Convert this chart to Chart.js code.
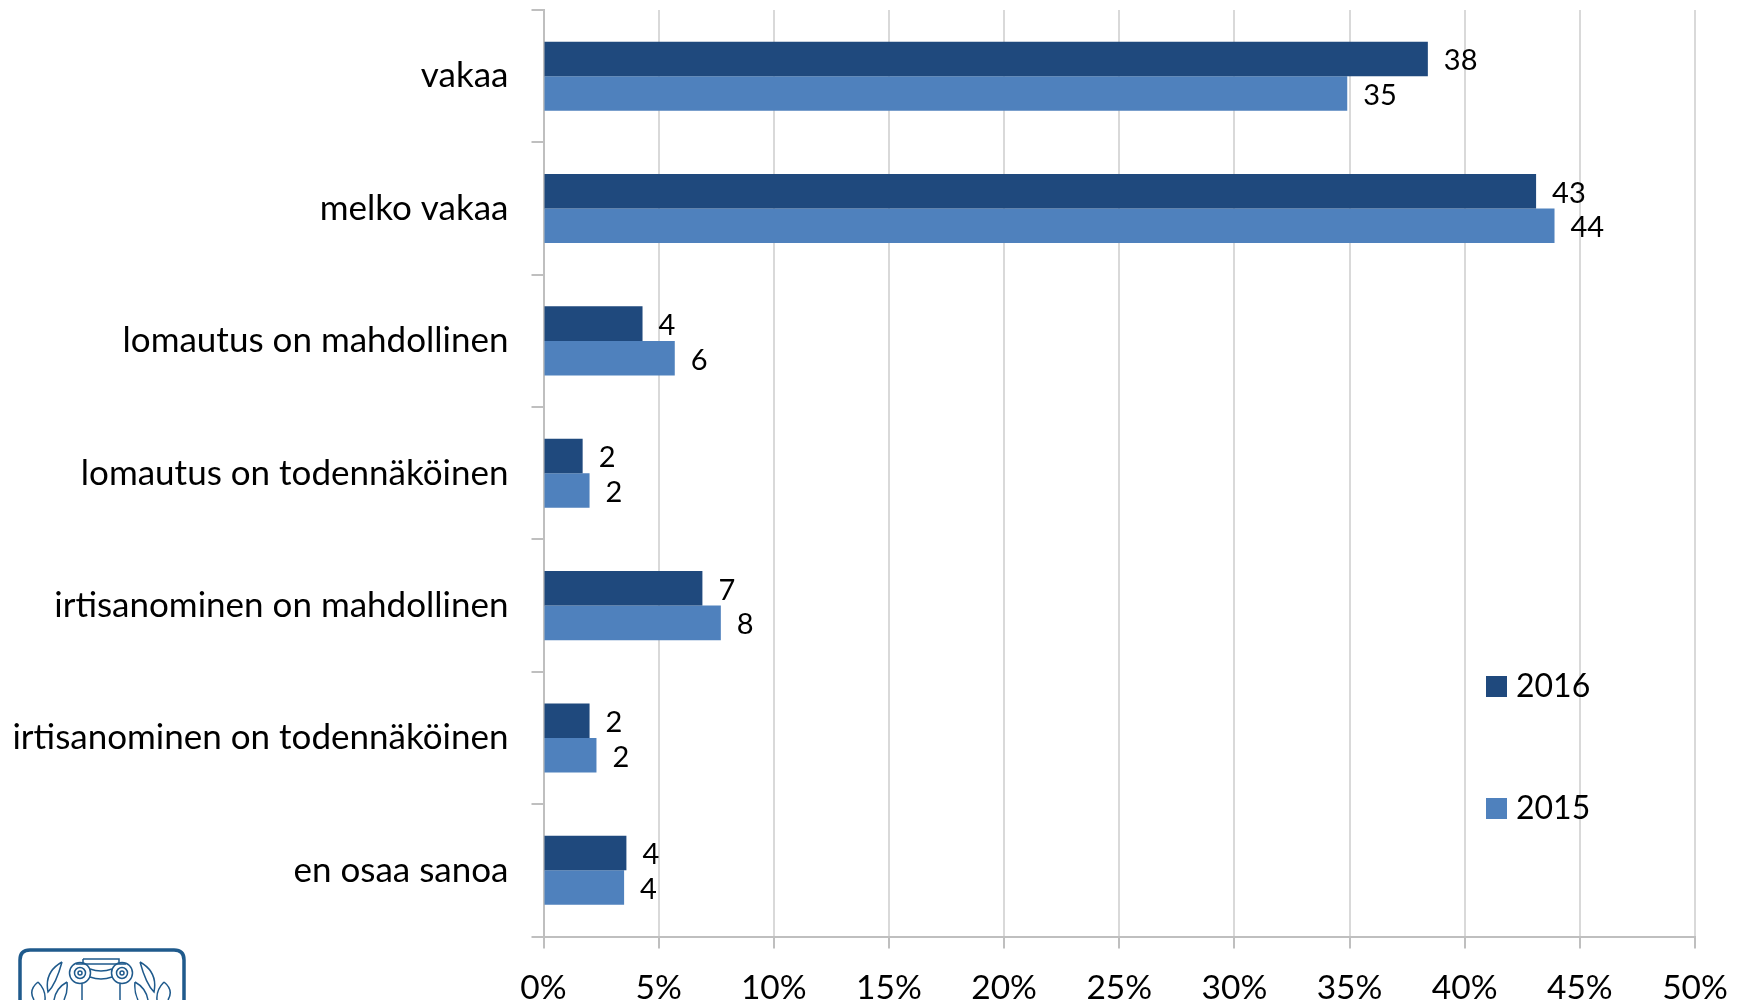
<!DOCTYPE html>
<html>
<head>
<meta charset="utf-8">
<script src="https://cdn.jsdelivr.net/npm/chart.js@4"></script>
<style>
    html, body { margin: 0; padding: 0; background: #fff; overflow: hidden; }
    #wrap { position: relative; width: 1746px; height: 1000px; }
    #logo { position: absolute; left: 18px; top: 948px; }
</style>
</head>
<body>
<div id="wrap">
    <canvas id="chart" width="1746" height="1000"></canvas>
    <svg id="logo" width="170" height="52" viewBox="0 0 170 52" fill="none" stroke="#1f5a8c" stroke-width="1.5">
        <path d="M2 52 V12 Q2 2 12 2 H156 Q166 2 166 12 V52" stroke-width="3.5"/>
        <path d="M65 11 H101 V16 M65 11 V16 M58 16 H108"/>
        <circle cx="62" cy="25" r="10.5"/><circle cx="62" cy="25" r="5.5"/><circle cx="62" cy="25" r="2"/>
        <circle cx="104" cy="25" r="10.5"/><circle cx="104" cy="25" r="5.5"/><circle cx="104" cy="25" r="2"/>
        <path d="M72 21 Q83 25 94 21 M72 29 Q83 33 94 29 M64 36 V52 M102 36 V52"/>
        <path d="M44 14 Q26 24 30 44 Q38 36 44 14 M20 34 Q10 42 16 52 M20 34 Q28 42 27 52 M49 34 Q38 40 36 52 M49 34 Q50 44 46 52"/>
        <path d="M122 14 Q140 24 136 44 Q128 36 122 14 M146 34 Q156 42 150 52 M146 34 Q138 42 139 52 M117 34 Q128 40 130 52 M117 34 Q116 44 120 52"/>
    </svg>
</div>
<script>
const categories = [
    'vakaa',
    'melko vakaa',
    'lomautus on mahdollinen',
    'lomautus on todennäköinen',
    'irtisanominen on mahdollinen',
    'irtisanominen on todennäköinen',
    'en osaa sanoa'
];
const values2016 = [38.4, 43.1, 4.3, 1.7, 6.9, 2.0, 3.6];
const values2015 = [34.9, 43.9, 5.7, 2.0, 7.7, 2.3, 3.5];
const labels2016 = [38, 43, 4, 2, 7, 2, 4];
const labels2015 = [35, 44, 6, 2, 8, 2, 4];
const seriesNames = ['2016', '2015'];
const seriesColors = ['#1f497d', '#4f81bd'];

const FONT = 'Lato, Carlito, sans-serif';

// Value labels at the end of each bar
const barLabels = {
    id: 'barLabels',
    afterDatasetsDraw(chart) {
        const ctx = chart.ctx;
        ctx.save();
        ctx.font = '29px ' + FONT;
        ctx.fillStyle = '#000';
        ctx.textBaseline = 'middle';
        ctx.textAlign = 'left';
        [labels2016, labels2015].forEach((labels, i) => {
            chart.getDatasetMeta(i).data.forEach((bar, j) => {
                ctx.fillText(labels[j], bar.x + 16, bar.y + 2);
            });
        });
        ctx.restore();
    }
};

// Legend sits inside the plot, right side
const sideLegend = {
    id: 'sideLegend',
    afterDatasetsDraw(chart) {
        const ctx = chart.ctx;
        const slots = [686.5, 808.5];
        ctx.save();
        ctx.font = '32px ' + FONT;
        ctx.textBaseline = 'middle';
        seriesNames.forEach((name, i) => {
            ctx.fillStyle = seriesColors[i];
            ctx.fillRect(1486, slots[i] - 10.5, 21, 21);
            ctx.fillStyle = '#000';
            ctx.fillText(name, 1516, slots[i]);
        });
        ctx.restore();
    }
};

new Chart(document.getElementById('chart'), {
    type: 'bar',
    data: {
        labels: categories,
        datasets: [
            { label: seriesNames[0], data: values2016, backgroundColor: seriesColors[0] },
            { label: seriesNames[1], data: values2015, backgroundColor: seriesColors[1] }
        ]
    },
    options: {
        indexAxis: 'y',
        responsive: false,
        animation: false,
        categoryPercentage: 0.522,
        barPercentage: 1,
        layout: { padding: { top: 10, right: 51, left: 0, bottom: 0 } },
        plugins: {
            legend: { display: false },
            tooltip: { enabled: false }
        },
        scales: {
            x: {
                min: 0,
                max: 50,
                ticks: {
                    stepSize: 5,
                    padding: 20,
                    maxRotation: 0,
                    color: '#000',
                    font: { family: FONT, size: 33.5 },
                    callback: v => v + '%'
                },
                grid: { color: '#d9d9d9', lineWidth: 2, tickLength: 12, tickColor: '#bfbfbf' },
                border: { color: '#bfbfbf', width: 2 },
                afterFit: scale => {
                    scale.height = 63.5;
                    scale.paddingLeft = 0;
                    scale.paddingRight = 0;
                }
            },
            y: {
                ticks: {
                    padding: 23,
                    color: '#000',
                    font: { family: FONT, size: 35 }
                },
                grid: { drawOnChartArea: false, color: '#bfbfbf', lineWidth: 2, tickLength: 12 },
                border: { color: '#bfbfbf', width: 2 },
                afterFit: scale => {
                    scale.width = 543.5;
                    // first and last labels must not push the plot inwards
                    scale.paddingTop = 0;
                    scale.paddingBottom = 0;
                }
            }
        }
    },
    plugins: [barLabels, sideLegend]
});
</script>
</body>
</html>
